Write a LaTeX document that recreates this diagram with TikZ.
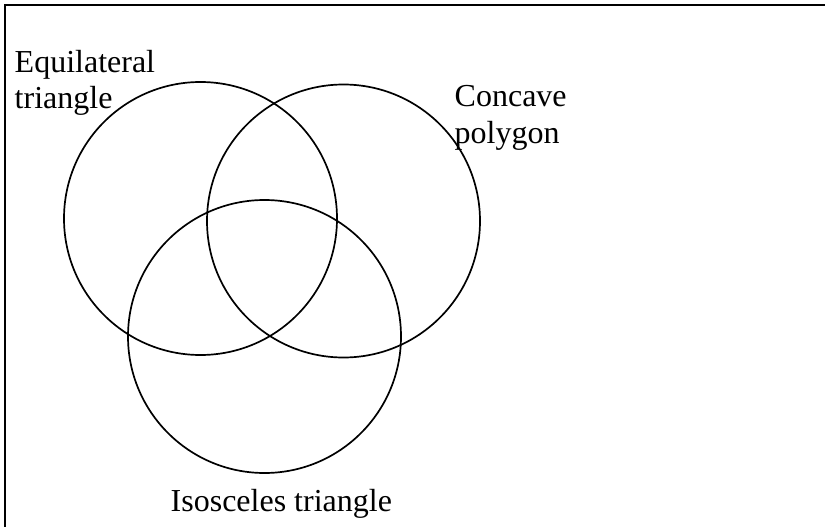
\documentclass[tikz,border=0pt]{standalone}
\usepackage{fontspec}
\setmainfont{Liberation Serif}
\begin{document}
\begin{tikzpicture}[x=1pt,y=-1pt,font=\fontsize{32}{36.5}\selectfont]
  \tikzset{
    shapeset/.style={draw=black,circle,line width=1.7pt,
      minimum size=273pt,inner sep=0pt},
    setlabel/.style={inner sep=0pt,align=left,anchor=base west}
  }
  \useasboundingbox (0,0) rectangle (825,527);
  \draw[line width=2pt] (5,527) -- (5,5) -- (825,5);

  \node[shapeset] (equi) at (200.5,218.5) {};
  \node[shapeset] (concave) at (343.5,221) {};
  \node[shapeset] (isos) at (264.5,336.5) {};

  % base anchor sits on the last line
  \node[setlabel] (equilabel) at (14.5,108.8) {Equilateral\\triangle};
  \node[setlabel] (concavelabel) at (454.5,143.3) {Concave\\polygon};
  \node[setlabel] (isoslabel) at (170.5,511) {Isosceles triangle};
\end{tikzpicture}
\end{document}
